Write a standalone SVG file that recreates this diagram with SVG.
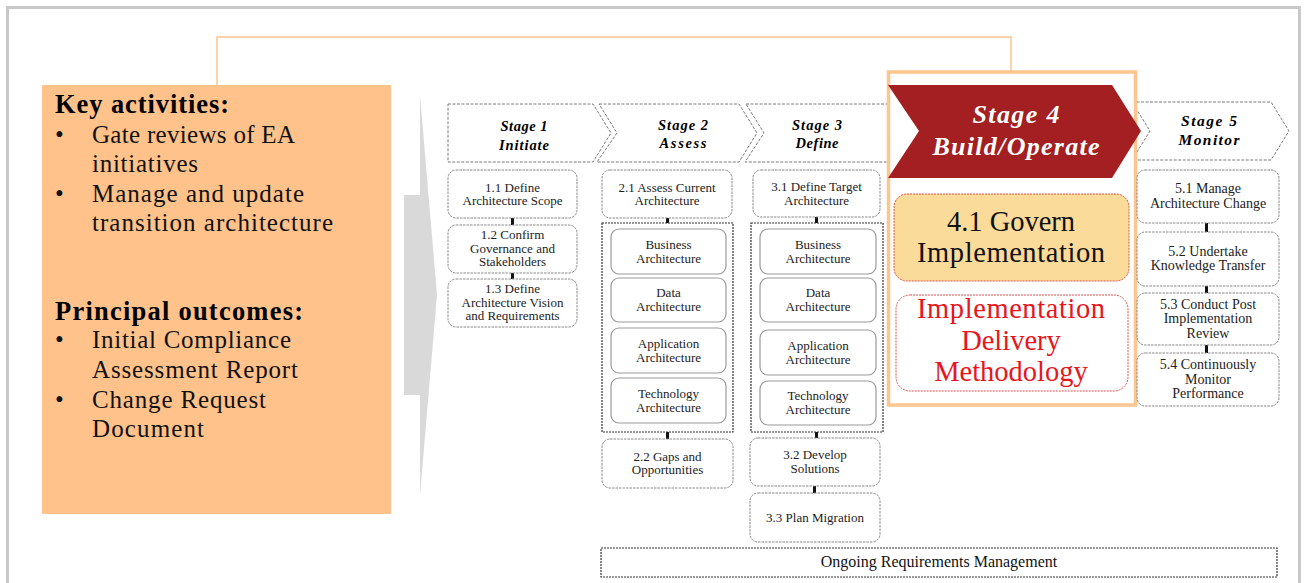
<svg xmlns="http://www.w3.org/2000/svg" width="1305" height="583" viewBox="0 0 1305 583">
<style>
text{font-family:"Liberation Serif","DejaVu Serif",serif;}
.lt{font-size:25px;fill:#111;}
.lh{font-size:26.5px;font-weight:bold;fill:#000;}
.hd{fill:#fff;stroke:#7a7a7a;stroke-width:1;stroke-dasharray:3,1.5;}
.ht{font-size:14.5px;font-weight:bold;font-style:italic;fill:#000;text-anchor:middle;}
.bx{fill:#fff;stroke:#8a8a8a;stroke-width:1;stroke-dasharray:2.5,1;}
.ib{fill:#fff;stroke:#9a9a9a;stroke-width:1.2;}
.grp{fill:#fff;stroke:#333;stroke-width:1.2;stroke-dasharray:2,1;}
.t{font-size:13px;fill:#222;text-anchor:middle;}
.t5{font-size:14px;fill:#222;text-anchor:middle;}
.s4{font-size:26px;font-weight:bold;font-style:italic;fill:#fff;text-anchor:middle;}
.b4{font-size:28.5px;text-anchor:middle;}
.cn{fill:#111;}
</style>
<rect x="0" y="0" width="1305" height="583" fill="#fff"/>
<rect x="7.5" y="7.5" width="1292" height="620" fill="none" stroke="#c8c8c8" stroke-width="3"/>

<g id="connectors">
<polyline points="217,85 217,37 1011,37 1011,72" fill="none" stroke="#ffc58f" stroke-width="1.5"/>
<rect class="cn" x="511" y="218" width="3" height="7"/>
<rect class="cn" x="511" y="273" width="3" height="6"/>
<rect class="cn" x="666" y="218" width="3" height="5"/>
<rect class="cn" x="666" y="432" width="3" height="7"/>
<rect class="cn" x="815" y="217" width="3" height="6"/>
<rect class="cn" x="815" y="432" width="3" height="6"/>
<rect class="cn" x="813" y="486" width="3" height="7"/>
<rect class="cn" x="1205" y="223" width="3" height="9"/>
<rect class="cn" x="1205" y="286" width="3" height="7"/>
<rect class="cn" x="1205" y="345" width="3" height="8"/>
</g>

<g id="summary">
<rect x="42" y="85" width="349" height="429" fill="#ffc28a"/>
<text class="lh" x="55" y="113" textLength="174">Key activities:</text>
<text class="lt" x="55" y="143">•</text>
<text class="lt" x="92" y="143" textLength="203">Gate reviews of EA</text>
<text class="lt" x="92" y="172" textLength="106">initiatives</text>
<text class="lt" x="55" y="202">•</text>
<text class="lt" x="92" y="202" textLength="212">Manage and update</text>
<text class="lt" x="92" y="231" textLength="241">transition architecture</text>
<text class="lh" x="55" y="320" textLength="248">Principal outcomes:</text>
<text class="lt" x="55" y="348">•</text>
<text class="lt" x="92" y="348" textLength="199">Initial Compliance</text>
<text class="lt" x="92" y="378" textLength="206">Assessment Report</text>
<text class="lt" x="55" y="408">•</text>
<text class="lt" x="92" y="408" textLength="174">Change Request</text>
<text class="lt" x="92" y="437" textLength="112">Document</text>
</g>

<g id="big-arrow">
<polygon points="404,195 420,195 420,95 437,295 420,495 420,395 404,395" fill="#d9d9d9"/>
</g>

<g id="stage1">
<polygon class="hd" points="448,104 593,104 611,133 593,162 448,162"/>
<text class="ht" x="524" y="131" textLength="47">Stage 1</text>
<text class="ht" x="524" y="150" textLength="50">Initiate</text>
</g>
<g id="stage2">
<polygon class="hd" points="599,104 739,104 757,133 739,162 597,162 617,133"/>
<text class="ht" x="683" y="130" textLength="50">Stage 2</text>
<text class="ht" x="683" y="148" textLength="47">Assess</text>
</g>
<g id="stage3">
<polygon class="hd" points="746,104 888,104 906,133 888,162 745,162 764,133"/>
<text class="ht" x="817" y="130" textLength="50">Stage 3</text>
<text class="ht" x="817" y="148" textLength="43">Define</text>
</g>
<g id="stage5">
<polygon class="hd" points="1132,102 1271,102 1289,131 1271,160 1132,160 1150,131"/>
<text class="ht" x="1209" y="126" style="font-size:15.5px" textLength="56">Stage 5</text>
<text class="ht" x="1209" y="145" style="font-size:15.5px" textLength="61">Monitor</text>
</g>

<g id="stage4">
<rect x="888.5" y="72" width="247" height="333" fill="#fff" stroke="#ffc58f" stroke-width="3.5"/>
<polygon points="888,85 1112,85 1141,131 1112,178 888,178 919,131" fill="#a31f21"/>
<text class="s4" x="1016" y="123" textLength="87">Stage 4</text>
<text class="s4" x="1016" y="155" textLength="167">Build/Operate</text>
</g>
<g id="n4-1">
<rect x="894" y="194" width="235" height="87" rx="13" fill="#fadb9a" stroke="#d9534f" stroke-width="1" stroke-dasharray="2,1"/>
<text class="b4" x="1011" y="231" fill="#111">4.1 Govern</text>
<text class="b4" x="1011" y="262" fill="#111" textLength="188">Implementation</text>
</g>
<g id="n4-idm">
<rect x="896" y="295" width="232" height="96" rx="14" fill="#fff" stroke="#d9534f" stroke-width="1" stroke-dasharray="2,1"/>
<text class="b4" x="1011" y="318" fill="#e8161c" textLength="188">Implementation</text>
<text class="b4" x="1011" y="350" fill="#e8161c">Delivery</text>
<text class="b4" x="1011" y="381" fill="#e8161c">Methodology</text>
</g>

<g id="n1-1"><rect class="bx" x="448" y="170" width="129" height="48" rx="8"/>
<text class="t" x="512.5" y="191.5">1.1 Define</text><text class="t" x="512.5" y="205">Architecture Scope</text></g>
<g id="n1-2"><rect class="bx" x="448" y="225" width="129" height="48" rx="8"/>
<text class="t" x="512.5" y="239">1.2 Confirm</text><text class="t" x="512.5" y="252.5">Governance and</text><text class="t" x="512.5" y="266">Stakeholders</text></g>
<g id="n1-3"><rect class="bx" x="448" y="279" width="129" height="48" rx="8"/>
<text class="t" x="512.5" y="293">1.3 Define</text><text class="t" x="512.5" y="306.5">Architecture Vision</text><text class="t" x="512.5" y="320">and Requirements</text></g>

<g id="n2-1"><rect class="bx" x="602" y="170" width="130" height="48" rx="8"/>
<text class="t" x="667" y="191.5">2.1 Assess Current</text><text class="t" x="667" y="205">Architecture</text></g>
<g id="g2"><rect class="grp" x="602" y="223" width="131" height="209"/>
<rect class="ib" x="611" y="229" width="115" height="45" rx="8"/>
<text class="t" x="668.5" y="248.5">Business</text><text class="t" x="668.5" y="262.5">Architecture</text>
<rect class="ib" x="611" y="278" width="115" height="44" rx="8"/>
<text class="t" x="668.5" y="297">Data</text><text class="t" x="668.5" y="311">Architecture</text>
<rect class="ib" x="611" y="328" width="115" height="45" rx="8"/>
<text class="t" x="668.5" y="347.5">Application</text><text class="t" x="668.5" y="361.5">Architecture</text>
<rect class="ib" x="611" y="378" width="115" height="45" rx="8"/>
<text class="t" x="668.5" y="397.5">Technology</text><text class="t" x="668.5" y="411.5">Architecture</text></g>
<g id="n2-2"><rect class="bx" x="602" y="439" width="131" height="49" rx="8"/>
<text class="t" x="667.5" y="460.5">2.2 Gaps and</text><text class="t" x="667.5" y="474">Opportunities</text></g>

<g id="n3-1"><rect class="bx" x="753" y="170" width="127" height="47" rx="8"/>
<text class="t" x="816.5" y="191">3.1 Define Target</text><text class="t" x="816.5" y="204.5">Architecture</text></g>
<g id="g3"><rect class="grp" x="751" y="223" width="132" height="209"/>
<rect class="ib" x="760" y="229" width="116" height="45" rx="8"/>
<text class="t" x="818" y="248.5">Business</text><text class="t" x="818" y="262.5">Architecture</text>
<rect class="ib" x="760" y="278" width="116" height="44" rx="8"/>
<text class="t" x="818" y="297">Data</text><text class="t" x="818" y="311">Architecture</text>
<rect class="ib" x="760" y="330" width="116" height="45" rx="8"/>
<text class="t" x="818" y="349.5">Application</text><text class="t" x="818" y="363.5">Architecture</text>
<rect class="ib" x="760" y="381" width="116" height="44" rx="8"/>
<text class="t" x="818" y="400">Technology</text><text class="t" x="818" y="414">Architecture</text></g>
<g id="n3-2"><rect class="bx" x="750" y="438" width="130" height="48" rx="8"/>
<text class="t" x="815" y="459">3.2 Develop</text><text class="t" x="815" y="472.5">Solutions</text></g>
<g id="n3-3"><rect class="bx" x="750" y="493" width="130" height="49" rx="8"/>
<text class="t" x="815" y="521.5">3.3 Plan Migration</text></g>

<g id="n5-1"><rect class="bx" x="1137" y="170" width="142" height="53" rx="8"/>
<text class="t5" x="1208" y="193">5.1 Manage</text><text class="t5" x="1208" y="207.5">Architecture Change</text></g>
<g id="n5-2"><rect class="bx" x="1137" y="232" width="142" height="54" rx="8"/>
<text class="t5" x="1208" y="255.5">5.2 Undertake</text><text class="t5" x="1208" y="270">Knowledge Transfer</text></g>
<g id="n5-3"><rect class="bx" x="1137" y="293" width="142" height="52" rx="8"/>
<text class="t5" x="1208" y="308.5">5.3 Conduct Post</text><text class="t5" x="1208" y="323">Implementation</text><text class="t5" x="1208" y="337.5">Review</text></g>
<g id="n5-4"><rect class="bx" x="1137" y="353" width="142" height="53" rx="8"/>
<text class="t5" x="1208" y="369">5.4 Continuously</text><text class="t5" x="1208" y="383.5">Monitor</text><text class="t5" x="1208" y="398">Performance</text></g>

<g id="ongoing"><rect class="grp" x="601" y="548" width="676" height="29"/>
<text x="939" y="567" text-anchor="middle" style="font-size:16px;fill:#111">Ongoing Requirements Management</text></g>
</svg>
